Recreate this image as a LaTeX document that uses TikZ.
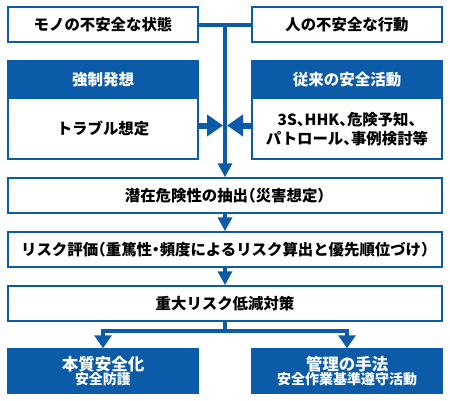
\documentclass[tikz,border=0pt]{standalone}
\usepackage{fontspec}
\setmainfont{Noto Sans CJK JP}[CharacterWidth=AlternateHalf]
\usetikzlibrary{arrows.meta,calc}
\definecolor{kblue}{RGB}{12,91,169}
\begin{document}
\begin{tikzpicture}[x=1pt,y=-1pt,
  box/.style={draw=kblue,line width=1.5pt,fill=white,minimum width=190pt,minimum height=35pt,inner sep=0pt,font=\fontsize{15.4}{19}\selectfont\bfseries,text=black,align=center},
  wide/.style={box,minimum width=434pt},
  hdr/.style={draw=kblue,fill=kblue,line width=1.5pt,minimum width=190pt,minimum height=37pt,inner sep=0pt,text=white,font=\fontsize{15.5}{19}\selectfont\bfseries},
  frame/.style={draw=kblue,line width=1.5pt,minimum width=190pt,minimum height=98pt,inner sep=0pt},
  txt/.style={inner sep=0pt,align=center,text=black,font=\fontsize{15.4}{19.5}\selectfont\bfseries},
  bot/.style={draw=kblue,fill=kblue,line width=1.5pt,minimum width=190pt,minimum height=44pt,inner sep=0pt,text=white,align=center},
  conn/.style={draw=kblue,line width=4pt},
  darr/.style={conn,-{Triangle[width=14pt,length=14pt]}},
  sarr/.style={draw=kblue,line width=6pt,-{Triangle[width=21pt,length=16pt]},shorten >=2pt},
  barr/.style={conn,-{Triangle[width=17pt,length=13pt]}}]
\useasboundingbox (0,0) rectangle (450,400);
% top row
\node[box] (tl) at (103,24.5) {モノの不安全な状態};
\node[box] (tr) at (347,24.5) {人の不安全な行動};
% middle boxes
\node[frame] (lf) at (103,110) {};
\node[hdr] (lh) at (103,79.5) {強制発想};
\node[txt] (lb) at (103,128.5) {トラブル想定};
\node[frame] (rf) at (347,110) {};
\node[hdr] (rh) at (347,79.5) {従来の安全活動};
\node[txt] (rb) at (347,129) {3S、HHK、危険予知、\\パトロール、事例検討等};
% flow boxes
\node[wide] (b4) at (225,195.5) {潜在危険性の抽出（災害想定）};
\node[wide] (b5) at (225,249.5) {リスク評価（重篤性・頻度によるリスク算出と優先順位づけ）};
\node[wide] (b6) at (225,303.5) {重大リスク低減対策};
% bottom boxes
\node[bot] (bl) at (103,371) {{\fontsize{16.5}{17}\selectfont\bfseries 本質安全化}\\[-0.5pt]{\fontsize{14}{17}\selectfont\bfseries 安全防護}};
\node[bot] (br) at (347,371) {{\fontsize{16.5}{17}\selectfont\bfseries 管理の手法}\\[-0.5pt]{\fontsize{14}{17}\selectfont\bfseries 安全作業基準遵守活動}};
% connectors
\coordinate (j) at ($(tl.east)!0.5!(tr.west)$);
\coordinate (m) at (225,125.5);
\coordinate (s) at (225,331);
\draw[conn] (tl.east) -- (tr.west);
\draw[darr] (j) -- (b4.north);
\draw[sarr] (lf.east |- m) -- (m);
\draw[sarr] (rf.west |- m) -- (m);
\draw[darr] (b4.south) -- (b5.north);
\draw[darr] (b5.south) -- (b6.north);
\draw[conn] (b6.south) -- (s);
\draw[barr] (s) -| (bl.north);
\draw[barr] (s) -| (br.north);
\end{tikzpicture}
\end{document}
